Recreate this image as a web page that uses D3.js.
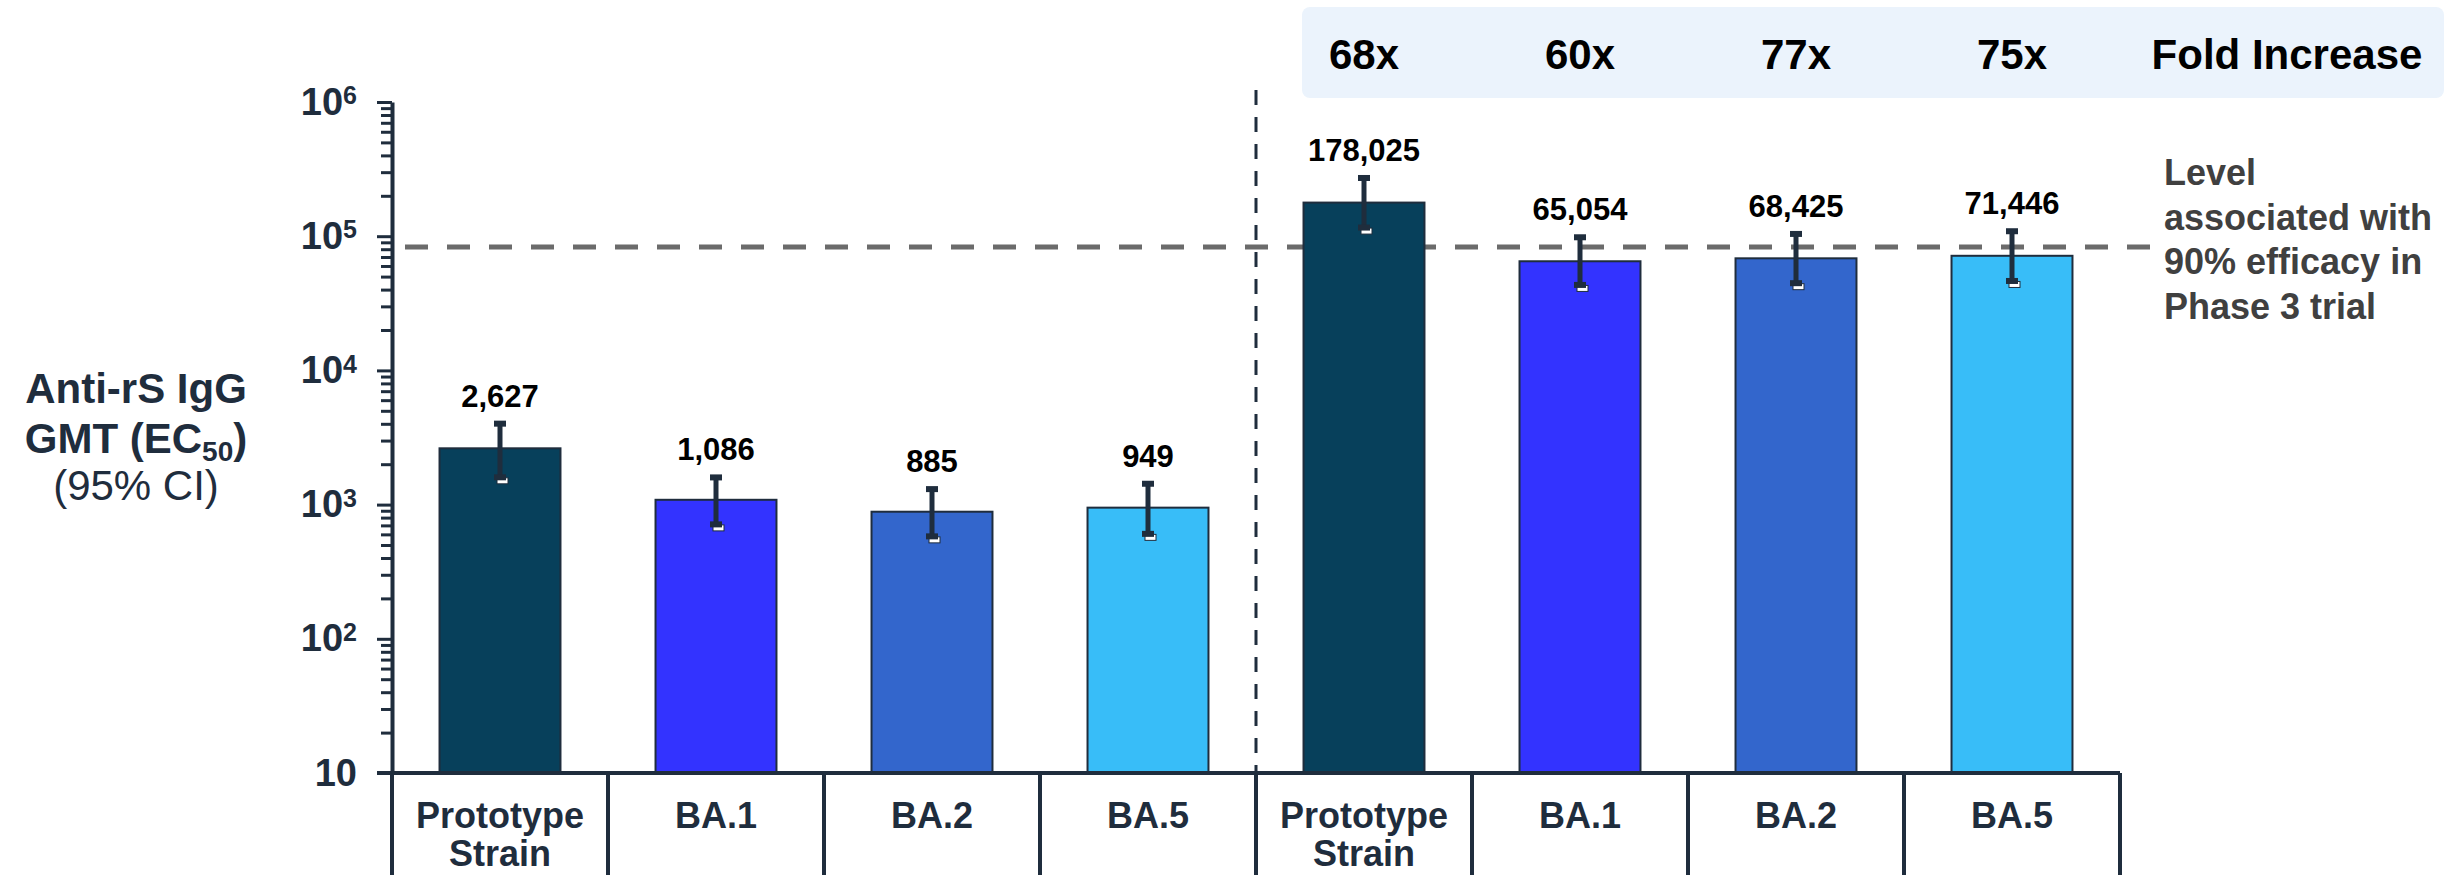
<!DOCTYPE html>
<html>
<head>
<meta charset="utf-8">
<script src="https://cdn.jsdelivr.net/npm/d3@7"></script>
<style>
  body { margin: 0; background: #ffffff; }
  svg { display: block; font-family: "Liberation Sans", Arial, sans-serif; }
</style>
</head>
<body>
<div id="chart"></div>
<script>
// values
var categories = ["Prototype Strain", "BA.1", "BA.2", "BA.5"];
var gmtBefore = [2627, 1086, 885, 949];
var ciLowBefore = [1570, 700, 570, 595];
var ciHighBefore = [4150, 1650, 1350, 1480];
var gmtAfter = [178025, 65054, 68425, 71446];
var ciLowAfter = [114000, 42600, 43900, 45600];
var ciHighAfter = [281000, 101600, 107600, 112700];
var foldIncrease = ["68x", "60x", "77x", "75x"];
var majorTicks = [10, 1e2, 1e3, 1e4, 1e5, 1e6];
var referenceLevel = 83000;
var referenceLabel = ["Level", "associated with", "90% efficacy in", "Phase 3 trial"];
var barColors = ["#07405b", "#3333ff", "#3366cc", "#38bdf8"];

var width = 2446, height = 875;
var ink = "#1f2d3d";

var svg = d3.select("#chart").append("svg")
  .attr("width", width)
  .attr("height", height);

// flatten the two groups into eight bars
var data = [];
[[gmtBefore, ciLowBefore, ciHighBefore], [gmtAfter, ciLowAfter, ciHighAfter]].forEach(function(g, gi) {
  categories.forEach(function(c, i) {
    data.push({key: gi + "-" + i, cat: c, idx: i, gmt: g[0][i], lo: g[1][i], hi: g[2][i]});
  });
});

var x = d3.scaleBand()
  .domain(data.map(function(d) { return d.key; }))
  .range([392, 2120])
  .paddingInner(0.44)
  .paddingOuter(0.22);
var y = d3.scaleLog().domain([10, 1e6]).range([773, 102]);

var step = x.step();
function boundary(i) { return x(data[0].key) - step * x.paddingInner() / 2 + i * step; }

// fold increase panel
var foldKeys = data.slice(4).map(function(d) { return d.key; });
svg.append("rect")
  .attr("x", boundary(4) + 46).attr("y", 7)
  .attr("width", width - boundary(4) - 48).attr("height", 91)
  .attr("rx", 8)
  .style("fill", "#ebf3fc");
svg.selectAll(".fold").data(foldIncrease).enter().append("text")
  .attr("class", "fold")
  .attr("x", function(d, i) { return x(foldKeys[i]) + x.bandwidth() / 2; })
  .attr("y", 69)
  .attr("text-anchor", "middle")
  .style("font-size", "42px").style("font-weight", "bold").style("fill", "#000")
  .text(function(d) { return d; });
svg.append("text")
  .attr("x", 2287).attr("y", 69)
  .attr("text-anchor", "middle")
  .style("font-size", "42px").style("font-weight", "bold").style("fill", "#000")
  .text("Fold Increase");

// reference level line
svg.append("line")
  .attr("x1", 405).attr("x2", 2152)
  .attr("y1", y(referenceLevel)).attr("y2", y(referenceLevel))
  .style("stroke", "#6b6b6b").style("stroke-width", 5)
  .style("stroke-dasharray", "23,19");

var refText = svg.append("text")
  .attr("x", 2164).attr("y", 185)
  .style("font-size", "36px").style("font-weight", "bold").style("fill", "#404040");
referenceLabel.forEach(function(t, i) {
  refText.append("tspan").attr("x", 2164).attr("dy", i ? 44.5 : 0).text(t);
});

// group separator
svg.append("line")
  .attr("x1", boundary(4)).attr("x2", boundary(4))
  .attr("y1", 90).attr("y2", y(10))
  .style("stroke", ink).style("stroke-width", 3)
  .style("stroke-dasharray", "15,12");

// bars
svg.selectAll(".bar").data(data).enter().append("rect")
  .attr("class", "bar")
  .attr("x", function(d) { return x(d.key); })
  .attr("width", x.bandwidth())
  .attr("y", function(d) { return y(d.gmt); })
  .attr("height", function(d) { return y(10) - y(d.gmt); })
  .style("fill", function(d) { return barColors[d.idx]; })
  .style("stroke", ink).style("stroke-width", 2);

// error bars
var err = svg.selectAll(".err").data(data).enter().append("g")
  .attr("class", "err")
  .attr("transform", function(d) { return "translate(" + (x(d.key) + x.bandwidth() / 2) + ",0)"; });
err.append("rect")
  .attr("x", -3).attr("y", function(d) { return y(d.lo) - 0.5; })
  .attr("width", 11).attr("height", 6)
  .style("fill", "#fff").style("stroke", ink).style("stroke-width", 1);
err.append("line")
  .attr("y1", function(d) { return y(d.lo); })
  .attr("y2", function(d) { return y(d.hi); })
  .style("stroke", ink).style("stroke-width", 5);
err.append("rect")
  .attr("x", -6).attr("y", function(d) { return y(d.hi) - 1; })
  .attr("width", 12).attr("height", 6).style("fill", ink);
err.append("rect")
  .attr("x", -6).attr("y", function(d) { return y(d.lo) - 4; })
  .attr("width", 12).attr("height", 6).style("fill", ink);

// value labels
svg.selectAll(".val").data(data).enter().append("text")
  .attr("class", "val")
  .attr("x", function(d) { return x(d.key) + x.bandwidth() / 2; })
  .attr("y", function(d) { return y(d.hi) - 15; })
  .attr("text-anchor", "middle")
  .style("font-size", "31px").style("font-weight", "bold").style("fill", "#000")
  .text(function(d) { return d3.format(",")(d.gmt); });

// y axis: minor ticks
var minorTicks = [];
majorTicks.slice(0, -1).forEach(function(m) {
  for (var k = 2; k < 10; k++) minorTicks.push(m * k);
});
var minorAxis = svg.append("g")
  .attr("transform", "translate(392,0)")
  .call(d3.axisLeft(y).tickValues(minorTicks).tickSize(11).tickFormat(""));
minorAxis.select(".domain").remove();
minorAxis.selectAll("line").style("stroke", ink).style("stroke-width", 3);

// y axis: major ticks with 10^n labels
var yAxis = svg.append("g")
  .attr("transform", "translate(392,0)")
  .call(d3.axisLeft(y).tickValues(majorTicks).tickSize(15).tickSizeOuter(0)
    .tickPadding(20).tickFormat(""));
yAxis.select(".domain").style("stroke", ink).style("stroke-width", 4);
yAxis.selectAll("line").style("stroke", ink).style("stroke-width", 3);
yAxis.selectAll("text").each(function(d) {
  var t = d3.select(this)
    .style("font-size", "38px").style("font-weight", "bold").style("fill", ink)
    .style("font-family", "'Liberation Sans', Arial, sans-serif");
  t.text("10");
  var e = Math.round(Math.log10(d));
  if (e > 1) t.append("tspan").attr("dy", "-0.42em").style("font-size", "25px").text(e);
});

// x axis baseline and cell dividers
svg.append("line")
  .attr("x1", 377).attr("x2", boundary(8))
  .attr("y1", y(10)).attr("y2", y(10))
  .style("stroke", ink).style("stroke-width", 4);
svg.selectAll(".div").data(d3.range(9)).enter().append("line")
  .attr("class", "div")
  .attr("x1", function(i) { return boundary(i); })
  .attr("x2", function(i) { return boundary(i); })
  .attr("y1", y(10)).attr("y2", height)
  .style("stroke", ink).style("stroke-width", 4);

// category labels
var cat = svg.selectAll(".cat").data(data).enter().append("text")
  .attr("class", "cat")
  .attr("text-anchor", "middle")
  .attr("y", 828)
  .style("font-size", "36px").style("font-weight", "bold").style("fill", ink);
cat.each(function(d) {
  var t = d3.select(this), cx = x(d.key) + x.bandwidth() / 2;
  d.cat.split(" ").forEach(function(w, i) {
    t.append("tspan").attr("x", cx).attr("dy", i ? 38 : 0).text(w);
  });
});

// y axis title
var title = svg.append("text")
  .attr("text-anchor", "middle")
  .style("font-size", "42px").style("fill", ink);
title.append("tspan").attr("x", 136).attr("y", 403).style("font-weight", "bold").text("Anti-rS IgG");
var l2 = title.append("tspan").attr("x", 136).attr("y", 453).style("font-weight", "bold");
l2.append("tspan").text("GMT (EC");
l2.append("tspan").attr("dy", 8).style("font-size", "28px").text("50");
l2.append("tspan").attr("dy", -8).text(")");
title.append("tspan").attr("x", 136).attr("y", 500).text("(95% CI)");
</script>
</body>
</html>
